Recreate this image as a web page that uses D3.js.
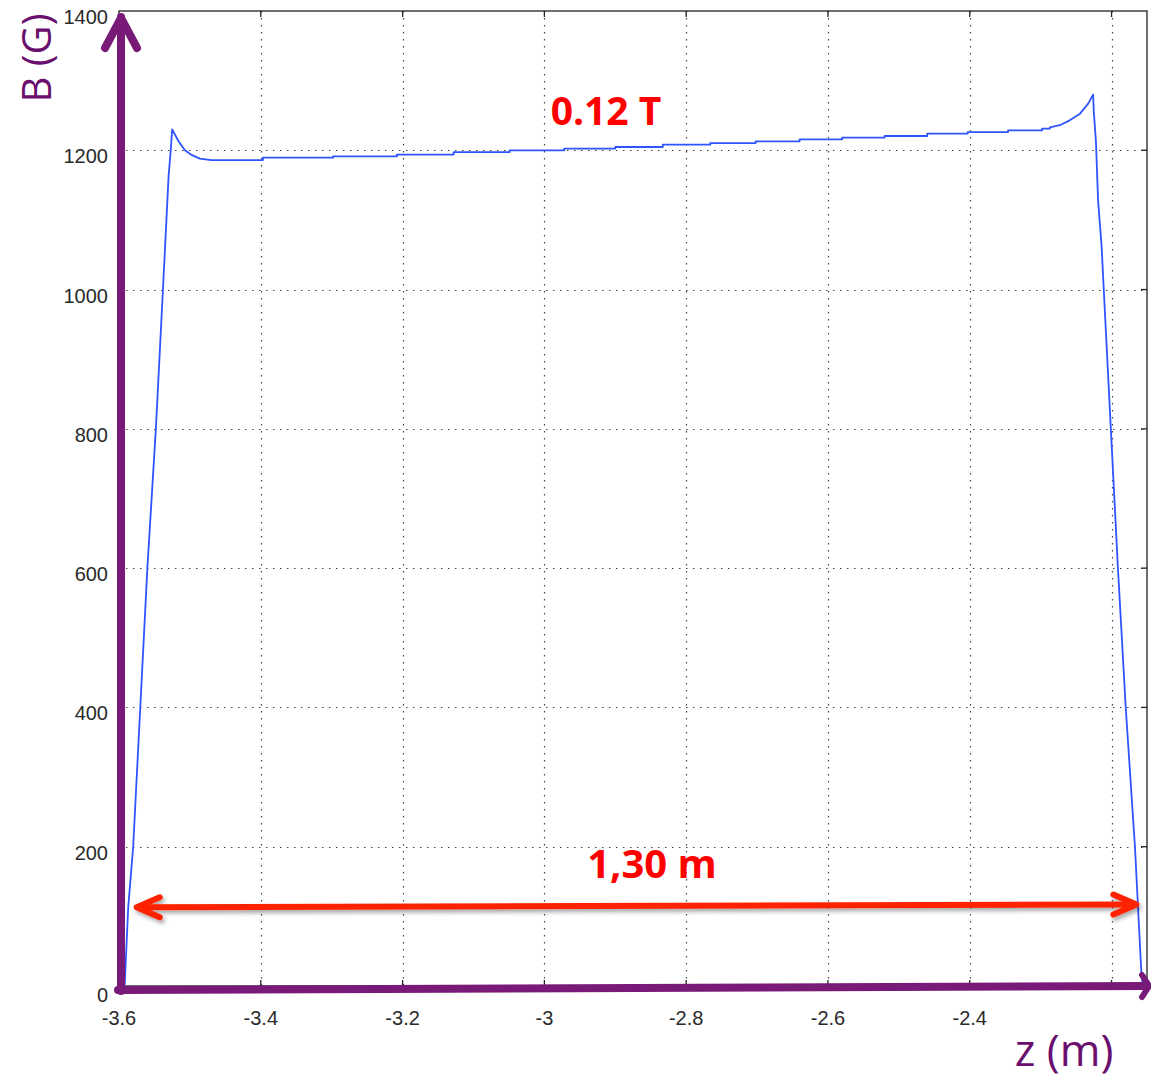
<!DOCTYPE html>
<html>
<head>
<meta charset="utf-8">
<script src="https://cdn.jsdelivr.net/npm/d3@7"></script>
<style>
  html, body { margin: 0; padding: 0; background: #fff; }
  svg { display: block; }
</style>
</head>
<body>
<svg id="chart" width="1151" height="1080"></svg>
<script>
// ---- Data ----
// Rising edge (left end of the magnet)
const riseZ = [-3.592, -3.587, -3.580, -3.570, -3.560, -3.548, -3.538, -3.530, -3.527, -3.525, -3.516, -3.507, -3.497, -3.486];
const riseB = [0, 113, 200, 400, 600, 800, 1000, 1164, 1200, 1230, 1213, 1200, 1193, 1188];
// Stepped plateau: start z of each step and its field value
const plateauZ = [-3.470, -3.397, -3.298, -3.208, -3.128, -3.049, -2.972, -2.900, -2.833, -2.766, -2.702, -2.640, -2.580, -2.520, -2.460, -2.403, -2.346, -2.298];
const plateauB = [1186, 1189.5, 1191.3, 1193.8, 1197.5, 1200, 1202.4, 1204.7, 1208, 1210.4, 1212.9, 1215.7, 1218.2, 1220.5, 1223.9, 1226.2, 1228.6, 1231];
// Falling edge (right end of the magnet)
const fallZ = [-2.287, -2.273, -2.259, -2.245, -2.233, -2.226, -2.225, -2.222, -2.219, -2.214, -2.211, -2.201, -2.191, -2.180, -2.167, -2.158, -2.156];
const fallB = [1233, 1236, 1243, 1252, 1267, 1280, 1255, 1212, 1128, 1062, 1000, 800, 600, 400, 200, 20, 0];

const xTicks = [-3.6, -3.4, -3.2, -3.0, -2.8, -2.6, -2.4, -2.2];
const xTickLabels = ["-3.6", "-3.4", "-3.2", "-3", "-2.8", "-2.6", "-2.4", ""];
const yTicks = [0, 200, 400, 600, 800, 1000, 1200, 1400];
const yTickLabels = ["0", "200", "400", "600", "800", "1000", "1200", "1400"];

const xTitle = "z (m)";
const yTitle = "B (G)";
const fieldNote = "0.12 T";
const lengthNote = "1,30 m";
// arrow indicating the 1.30 m length, in data units (z, B)
const lengthArrowZ = [-3.575, -2.165];
const lengthArrowB = [113, 117];

// ---- Build series ----
const points = [];
riseZ.forEach((z, i) => points.push([z, riseB[i]]));
plateauZ.forEach((z, i) => {
  const next = i < plateauZ.length - 1 ? plateauZ[i + 1] : fallZ[0];
  points.push([z, plateauB[i]]);
  points.push([next, plateauB[i]]);
});
fallZ.forEach((z, i) => points.push([z, fallB[i]]));

// ---- Scales ----
const svg = d3.select("#chart");
const x = d3.scaleLinear().domain([-3.6, -2.15]).range([119, 1147]);
const y = d3.scaleLinear().domain([0, 1400]).range([986, 11]);

const defs = svg.append("defs");
const sh = defs.append("filter").attr("id", "shadow").attr("x", "-5%").attr("y", "-100%").attr("width", "110%").attr("height", "300%");
sh.append("feDropShadow").attr("dx", 2).attr("dy", 3).attr("stdDeviation", 2).attr("flood-color", "#000").attr("flood-opacity", 0.35);

// ---- Grid ----
const grid = svg.append("g").attr("stroke", "#444").attr("stroke-width", 1.2).attr("stroke-dasharray", "1.5,5.5");
grid.selectAll(".vg").data(xTicks.slice(1)).join("line")
  .attr("x1", d => Math.round(x(d)) + 0.5).attr("x2", d => Math.round(x(d)) + 0.5)
  .attr("y1", y(1400)).attr("y2", y(0));
grid.selectAll(".hg").data(yTicks.slice(1, -1)).join("line")
  .attr("x1", x(-3.6)).attr("x2", x(-2.15))
  .attr("y1", d => Math.round(y(d)) + 0.5).attr("y2", d => Math.round(y(d)) + 0.5);

// ---- Frame + inward ticks ----
const frame = svg.append("g").attr("stroke", "#222").attr("stroke-width", 1.3).attr("fill", "none");
frame.append("rect").attr("x", x(-3.6)).attr("y", y(1400)).attr("width", x(-2.15) - x(-3.6)).attr("height", y(0) - y(1400));
xTicks.slice(1).forEach(t => {
  frame.append("line").attr("x1", x(t)).attr("x2", x(t)).attr("y1", y(1400)).attr("y2", y(1400) + 6);
  frame.append("line").attr("x1", x(t)).attr("x2", x(t)).attr("y1", y(0)).attr("y2", y(0) - 6);
});
yTicks.slice(1, -1).forEach(t => {
  frame.append("line").attr("x1", x(-2.15)).attr("x2", x(-2.15) - 6).attr("y1", y(t)).attr("y2", y(t));
});

// ---- Tick labels ----
const tickFont = "'Liberation Sans', Arial, sans-serif";
svg.append("g").selectAll("text").data(yTicks).join("text")
  .attr("x", 108).attr("y", d => y(d) + (d === 0 ? 16 : 13))
  .attr("text-anchor", "end").attr("font-family", tickFont).attr("font-size", 20).attr("fill", "#2a2a2a")
  .text((d, i) => yTickLabels[i]);
svg.append("g").selectAll("text").data(xTicks).join("text")
  .attr("x", d => x(d)).attr("y", 1025)
  .attr("text-anchor", "middle").attr("font-family", tickFont).attr("font-size", 20).attr("fill", "#2a2a2a")
  .text((d, i) => xTickLabels[i]);

// ---- Curve ----
const line = d3.line().x(d => x(d[0])).y(d => y(d[1]));
svg.append("path").datum(points).attr("d", line)
  .attr("fill", "none").attr("stroke", "#2f55ff").attr("stroke-width", 1.8).attr("stroke-linejoin", "round");

// ---- Purple axis arrows ----
const purple = "#7a1a78";
const ax = svg.append("g").attr("stroke", purple).attr("stroke-width", 8).attr("fill", "none").attr("stroke-linecap", "round").attr("stroke-linejoin", "round");
ax.append("line").attr("x1", 121).attr("y1", 991).attr("x2", 121).attr("y2", 17);
ax.append("polyline").attr("points", "105,48 121,18 137,48");
ax.append("line").attr("x1", 118).attr("y1", 990).attr("x2", 1146).attr("y2", 986);
ax.append("polyline").attr("points", "1142,975 1149,986 1142,997").attr("stroke-width", 6);

// ---- Red length arrow ----
const red = "#ff2400";
const ra = svg.append("g").attr("stroke", red).attr("stroke-width", 6).attr("fill", "none")
  .attr("stroke-linecap", "round").attr("stroke-linejoin", "round").attr("filter", "url(#shadow)");
const x1 = x(lengthArrowZ[0]), y1 = y(lengthArrowB[0]);
const x2 = x(lengthArrowZ[1]), y2 = y(lengthArrowB[1]);
ra.append("line").attr("x1", x1 + 2).attr("y1", y1).attr("x2", x2 - 2).attr("y2", y2);
ra.append("polyline").attr("points", `${x1 + 23},${y1 - 10} ${x1},${y1} ${x1 + 23},${y1 + 10}`);
ra.append("polyline").attr("points", `${x2 - 23},${y2 - 10} ${x2},${y2} ${x2 - 23},${y2 + 10}`);

// ---- Annotations ----
const annFont = "'Open Sans', 'Noto Sans', sans-serif";
svg.append("text").attr("x", 606).attr("y", 125).attr("text-anchor", "middle")
  .attr("font-family", annFont).attr("font-weight", 700).attr("font-size", 39).attr("fill", "#ff0000")
  .text(fieldNote);
svg.append("text").attr("x", 652).attr("y", 878).attr("text-anchor", "middle")
  .attr("font-family", annFont).attr("font-weight", 700).attr("font-size", 40).attr("fill", "#ff0000")
  .text(lengthNote);

// ---- Axis titles ----
svg.append("text").attr("x", 1064).attr("y", 1066).attr("text-anchor", "middle")
  .attr("font-family", annFont).attr("font-size", 44).attr("fill", "#6a0f6e")
  .text(xTitle);
svg.append("text").attr("transform", "translate(51,58) rotate(-90)").attr("text-anchor", "middle")
  .attr("font-family", annFont).attr("font-size", 40).attr("fill", "#6a0f6e")
  .text(yTitle);
</script>
</body>
</html>
